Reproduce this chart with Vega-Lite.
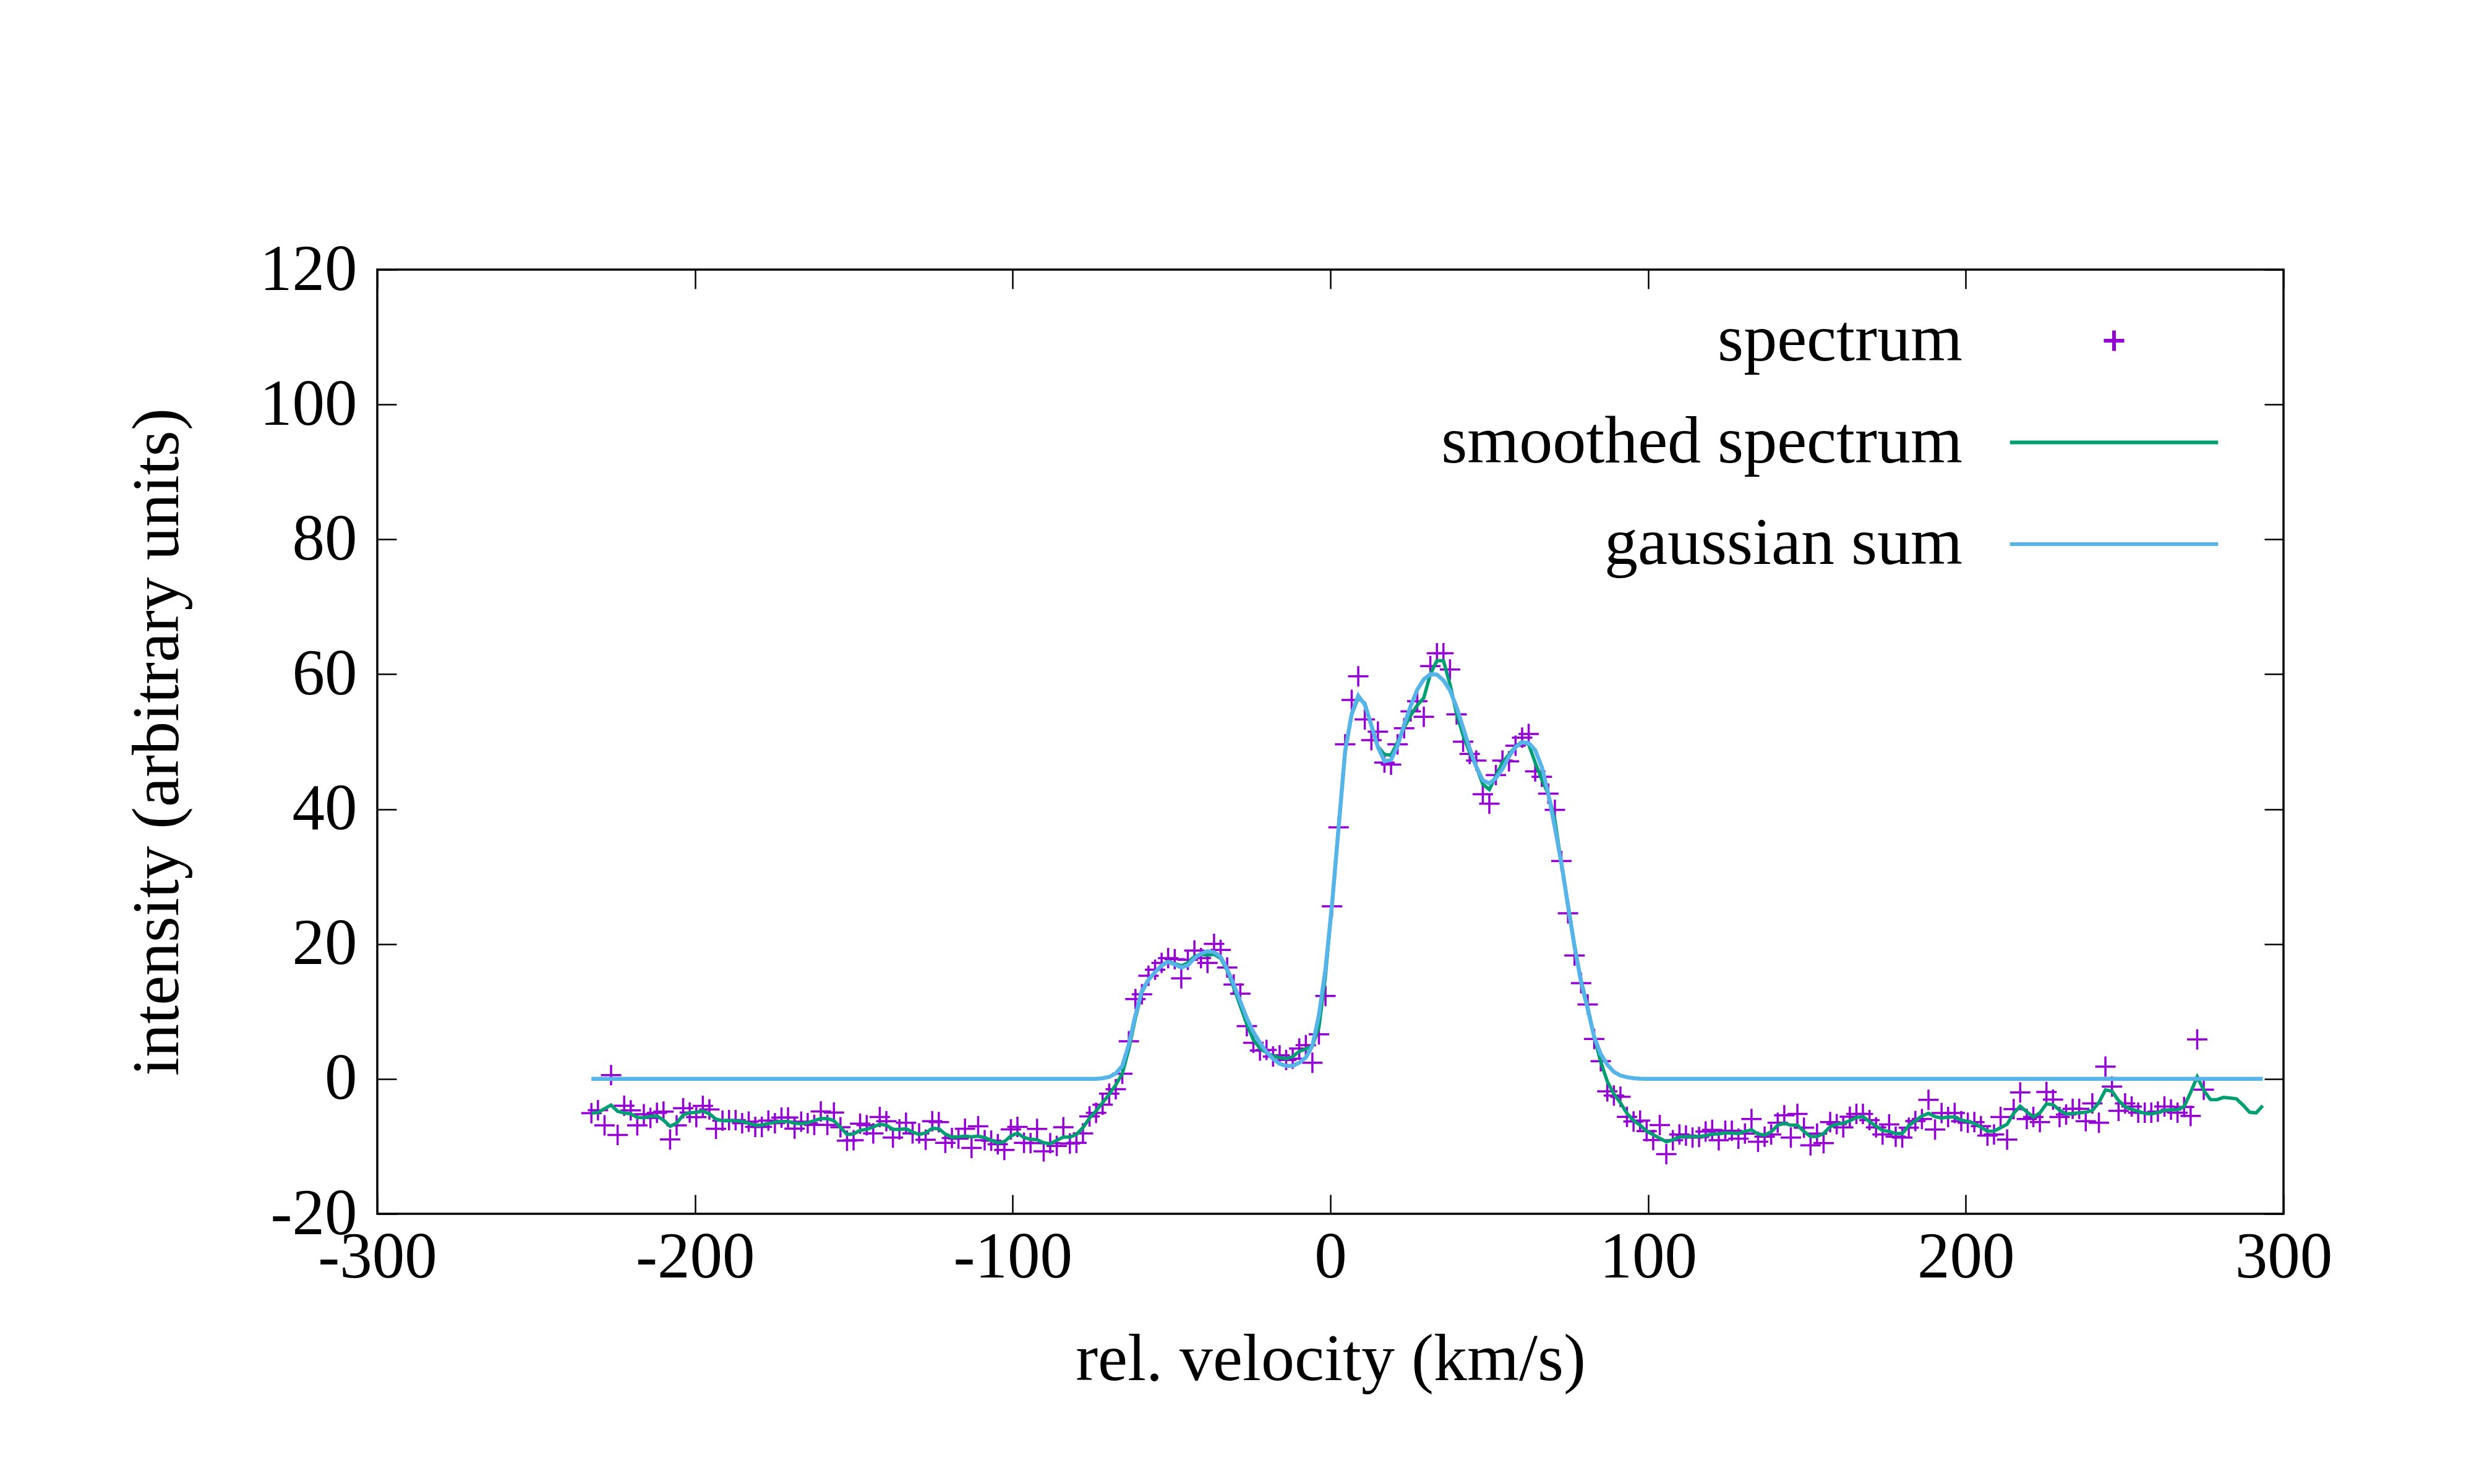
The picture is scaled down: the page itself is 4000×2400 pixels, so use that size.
{
"$schema":"https://vega.github.io/schema/vega-lite/v6.json",
"width":3082,"height":1527,
"autosize":{"type":"none"},
"padding":{"left":610,"top":436,"right":308,"bottom":437},
"background":"white",
"config":{
 "view":{"stroke":"black","strokeWidth":3.5},
 "font":"Liberation Serif",
 "axis":{"grid":false,"domain":false,"tickColor":"black","tickWidth":2.5,"tickSize":-31,"labelFont":"Liberation Serif","labelFontSize":105,"labelColor":"black","labelLimit":1000,"titleFont":"Liberation Serif","titleFontSize":108,"titleFontWeight":"normal","titleColor":"black","titleLimit":3000,"labelFlush":false,"labelOverlap":false,"labelBound":false},
 "legend":{"orient":"none","legendX":2754,"legendY":61,"title":null,"labelAlign":"right","labelBaseline":"middle","labelOffset":-299,"labelFont":"Liberation Serif","labelFontSize":108,"labelColor":"black","labelLimit":3000,"symbolSize":1089,"symbolStrokeWidth":6,"rowPadding":56.5,"padding":0}
},
"data":{"values":[
{"v":-232.60,"s":-5.07,"m":-5.07,"g":0},
{"v":-230.54,"s":-4.64,"m":-4.98,"g":0},
{"v":-228.47,"s":-6.9,"m":-4.43,"g":0},
{"v":-226.41,"s":0.55,"m":-3.88,"g":0},
{"v":-224.35,"s":-8.3,"m":-4.8,"g":0},
{"v":-222.29,"s":-3.97,"m":-5.04,"g":0},
{"v":-220.22,"s":-4.67,"m":-5.19,"g":0},
{"v":-218.16,"s":-6.9,"m":-5.71,"g":0},
{"v":-216.10,"s":-5.25,"m":-5.74,"g":0},
{"v":-214.03,"s":-5.8,"m":-5.55,"g":0},
{"v":-211.97,"s":-5.04,"m":-5.5,"g":0},
{"v":-209.91,"s":-4.86,"m":-6.11,"g":0},
{"v":-207.84,"s":-8.98,"m":-7.03,"g":0},
{"v":-205.78,"s":-6.9,"m":-6.57,"g":0},
{"v":-203.72,"s":-4.34,"m":-5.35,"g":0},
{"v":-201.66,"s":-4.98,"m":-5.04,"g":0},
{"v":-199.59,"s":-5.68,"m":-4.95,"g":0},
{"v":-197.53,"s":-4.0,"m":-4.74,"g":0},
{"v":-195.47,"s":-4.52,"m":-5.19,"g":0},
{"v":-193.40,"s":-7.39,"m":-5.96,"g":0},
{"v":-191.34,"s":-6.17,"m":-6.2,"g":0},
{"v":-189.28,"s":-6.11,"m":-6.17,"g":0},
{"v":-187.21,"s":-6.11,"m":-6.2,"g":0},
{"v":-185.15,"s":-6.57,"m":-6.32,"g":0},
{"v":-183.09,"s":-6.35,"m":-6.57,"g":0},
{"v":-181.03,"s":-7.12,"m":-6.87,"g":0},
{"v":-178.96,"s":-7.12,"m":-6.87,"g":0},
{"v":-176.90,"s":-6.17,"m":-6.63,"g":0},
{"v":-174.84,"s":-6.57,"m":-6.41,"g":0},
{"v":-172.77,"s":-5.74,"m":-6.32,"g":0},
{"v":-170.71,"s":-5.71,"m":-6.32,"g":0},
{"v":-168.65,"s":-7.36,"m":-6.57,"g":0},
{"v":-166.58,"s":-6.35,"m":-6.63,"g":0},
{"v":-164.52,"s":-6.57,"m":-6.5,"g":0},
{"v":-162.46,"s":-6.81,"m":-6.2,"g":0},
{"v":-160.40,"s":-4.83,"m":-5.89,"g":0},
{"v":-158.33,"s":-6.81,"m":-5.89,"g":0},
{"v":-156.27,"s":-4.98,"m":-6.2,"g":0},
{"v":-154.21,"s":-7.17,"m":-7.17,"g":0},
{"v":-152.14,"s":-9.16,"m":-8.24,"g":0},
{"v":-150.08,"s":-9.10,"m":-8.15,"g":0},
{"v":-148.02,"s":-6.63,"m":-7.63,"g":0},
{"v":-145.95,"s":-6.87,"m":-7.48,"g":0},
{"v":-143.89,"s":-8.09,"m":-7.12,"g":0},
{"v":-141.83,"s":-5.65,"m":-6.72,"g":0},
{"v":-139.77,"s":-6.26,"m":-6.87,"g":0},
{"v":-137.70,"s":-8.70,"m":-7.48,"g":0},
{"v":-135.64,"s":-7.48,"m":-7.48,"g":0},
{"v":-133.58,"s":-6.51,"m":-7.39,"g":0},
{"v":-131.51,"s":-8.09,"m":-7.88,"g":0},
{"v":-129.45,"s":-8.09,"m":-8.24,"g":0},
{"v":-127.39,"s":-9.01,"m":-8.0,"g":0},
{"v":-125.32,"s":-6.26,"m":-7.33,"g":0},
{"v":-123.26,"s":-6.41,"m":-7.39,"g":0},
{"v":-121.20,"s":-9.47,"m":-8.18,"g":0},
{"v":-119.13,"s":-8.77,"m":-8.64,"g":0},
{"v":-117.07,"s":-8.86,"m":-8.58,"g":0},
{"v":-115.01,"s":-7.39,"m":-8.49,"g":0},
{"v":-112.95,"s":-10.23,"m":-8.58,"g":0},
{"v":-110.88,"s":-7.02,"m":-8.49,"g":0},
{"v":-108.82,"s":-9.10,"m":-8.7,"g":0},
{"v":-106.76,"s":-9.16,"m":-9.1,"g":0},
{"v":-104.69,"s":-9.68,"m":-9.47,"g":0},
{"v":-102.63,"s":-10.54,"m":-9.32,"g":0},
{"v":-100.57,"s":-7.48,"m":-8.46,"g":0},
{"v":-98.51,"s":-7.12,"m":-8.04,"g":0},
{"v":-96.44,"s":-9.47,"m":-8.7,"g":0},
{"v":-94.38,"s":-9.53,"m":-8.95,"g":0},
{"v":-92.32,"s":-7.42,"m":-9.01,"g":0},
{"v":-90.25,"s":-10.75,"m":-9.47,"g":0},
{"v":-88.19,"s":-9.53,"m":-9.62,"g":0},
{"v":-86.13,"s":-9.93,"m":-9.1,"g":0},
{"v":-84.06,"s":-7.17,"m":-8.64,"g":0},
{"v":-82.00,"s":-9.56,"m":-8.64,"g":0},
{"v":-79.94,"s":-9.47,"m":-8.24,"g":0},
{"v":-77.88,"s":-8.09,"m":-7.23,"g":0},
{"v":-75.81,"s":-5.56,"m":-5.8,"g":0},
{"v":-73.75,"s":-5.04,"m":-4.74,"g":0.02},
{"v":-71.69,"s":-3.82,"m":-3.52,"g":0.1},
{"v":-69.62,"s":-2.20,"m":-2.3,"g":0.3},
{"v":-67.56,"s":-1.53,"m":-0.9,"g":0.8},
{"v":-65.50,"s":0.76,"m":0.8,"g":1.93},
{"v":-63.43,"s":5.59,"m":4.44,"g":5.13},
{"v":-61.37,"s":11.83,"m":9.0,"g":9.46},
{"v":-59.31,"s":12.55,"m":12.87,"g":13.1},
{"v":-57.25,"s":15.29,"m":14.7,"g":14.7},
{"v":-55.18,"s":16.2,"m":15.84,"g":15.84},
{"v":-53.12,"s":17.2,"m":16.75,"g":16.84},
{"v":-51.06,"s":17.9,"m":17.43,"g":17.34},
{"v":-48.99,"s":17.75,"m":17.1,"g":16.98},
{"v":-46.93,"s":14.9,"m":16.75,"g":16.52},
{"v":-44.87,"s":17.66,"m":17.2,"g":16.84},
{"v":-42.80,"s":19.03,"m":18.12,"g":17.88},
{"v":-40.74,"s":17.9,"m":18.48,"g":18.57},
{"v":-38.68,"s":17.2,"m":18.35,"g":18.94},
{"v":-36.62,"s":20.03,"m":18.48,"g":18.8},
{"v":-34.55,"s":19.12,"m":17.9,"g":18.12},
{"v":-32.49,"s":16.52,"m":16.07,"g":16.3},
{"v":-30.43,"s":14.0,"m":13.56,"g":14.0},
{"v":-28.36,"s":12.64,"m":10.83,"g":11.5},
{"v":-26.30,"s":7.82,"m":8.1,"g":9.0},
{"v":-24.24,"s":5.35,"m":5.8,"g":6.95},
{"v":-22.17,"s":4.21,"m":4.54,"g":5.35},
{"v":-20.11,"s":4.3,"m":3.9,"g":3.99},
{"v":-18.05,"s":3.3,"m":3.39,"g":2.99},
{"v":-15.98,"s":3.5,"m":3.17,"g":2.25},
{"v":-13.92,"s":2.8,"m":2.99,"g":1.93},
{"v":-11.86,"s":3.0,"m":3.3,"g":1.93},
{"v":-9.80,"s":4.5,"m":4.08,"g":2.39},
{"v":-7.73,"s":5.0,"m":4.44,"g":3.17},
{"v":-5.67,"s":2.4,"m":4.9,"g":4.9},
{"v":-3.61,"s":6.6,"m":7.63,"g":9.46},
{"v":-1.54,"s":12.3,"m":15.38,"g":16.3},
{"v":0.52,"s":25.6,"m":25.9,"g":25.9},
{"v":2.58,"s":37.3,"m":37.3,"g":37.26},
{"v":4.65,"s":49.6,"m":48.5,"g":48.66},
{"v":6.71,"s":56.2,"m":54.0,"g":54.13},
{"v":8.77,"s":59.7,"m":56.5,"g":56.8},
{"v":10.83,"s":53.3,"m":55.7,"g":55.5},
{"v":12.90,"s":50.24,"m":52.4,"g":52.4},
{"v":14.96,"s":51.5,"m":49.3,"g":49.2},
{"v":17.02,"s":46.9,"m":48.1,"g":47.1},
{"v":19.09,"s":46.6,"m":48.0,"g":47.3},
{"v":21.15,"s":49.6,"m":49.9,"g":49.4},
{"v":23.21,"s":52.0,"m":52.1,"g":52.5},
{"v":25.28,"s":54.5,"m":53.9,"g":55.3},
{"v":27.34,"s":56.0,"m":55.4,"g":57.7},
{"v":29.40,"s":53.7,"m":56.5,"g":59.25},
{"v":31.46,"s":61.2,"m":60.0,"g":60.0},
{"v":33.53,"s":63.1,"m":62.0,"g":59.95},
{"v":35.59,"s":63.1,"m":62.0,"g":59.1},
{"v":37.65,"s":60.7,"m":58.5,"g":57.6},
{"v":39.72,"s":54.06,"m":54.2,"g":55.1},
{"v":41.78,"s":50.0,"m":50.9,"g":52.07},
{"v":43.84,"s":48.2,"m":48.4,"g":49.0},
{"v":45.91,"s":47.2,"m":46.3,"g":46.3},
{"v":47.97,"s":42.2,"m":43.7,"g":44.3},
{"v":50.03,"s":40.8,"m":42.9,"g":43.8},
{"v":52.09,"s":45.05,"m":44.9,"g":44.6},
{"v":54.16,"s":47.2,"m":46.9,"g":45.97},
{"v":56.22,"s":47.1,"m":48.1,"g":47.8},
{"v":58.28,"s":49.4,"m":49.3,"g":49.2},
{"v":60.35,"s":50.6,"m":50.0,"g":49.9},
{"v":62.41,"s":51.15,"m":49.6,"g":49.8},
{"v":64.47,"s":45.6,"m":46.9,"g":48.75},
{"v":66.54,"s":44.8,"m":44.4,"g":46.25},
{"v":68.60,"s":42.3,"m":42.2,"g":42.25},
{"v":70.66,"s":39.9,"m":38.4,"g":37.3},
{"v":72.72,"s":32.3,"m":31.9,"g":31.95},
{"v":74.79,"s":24.55,"m":25.9,"g":25.65},
{"v":76.85,"s":18.3,"m":19.8,"g":19.6},
{"v":78.91,"s":14.2,"m":14.6,"g":14.35},
{"v":80.98,"s":11.03,"m":10.7,"g":10.4},
{"v":83.04,"s":5.93,"m":6.2,"g":6.2},
{"v":85.10,"s":2.62,"m":2.51,"g":3.67},
{"v":87.17,"s":-1.85,"m":-0.38,"g":2.09},
{"v":89.23,"s":-2.47,"m":-2.22,"g":1.04},
{"v":91.29,"s":-2.64,"m":-3.54,"g":0.51},
{"v":93.35,"s":-5.64,"m":-5.11,"g":0.25},
{"v":95.42,"s":-6.32,"m":-6.17,"g":0.1},
{"v":97.48,"s":-6.17,"m":-6.85,"g":0.04},
{"v":99.54,"s":-7.74,"m":-7.74,"g":0.01},
{"v":101.61,"s":-9.06,"m":-8.27,"g":0},
{"v":103.67,"s":-6.85,"m":-8.8,"g":0},
{"v":105.73,"s":-11.16,"m":-9.32,"g":0},
{"v":107.80,"s":-9.1,"m":-9.03,"g":0},
{"v":109.86,"s":-8.25,"m":-8.6,"g":0},
{"v":111.92,"s":-8.4,"m":-8.55,"g":0},
{"v":113.98,"s":-8.7,"m":-8.56,"g":0},
{"v":116.05,"s":-8.6,"m":-8.55,"g":0},
{"v":118.11,"s":-7.8,"m":-8.4,"g":0},
{"v":120.17,"s":-7.55,"m":-8.2,"g":0},
{"v":122.24,"s":-9.1,"m":-8.15,"g":0},
{"v":124.30,"s":-7.7,"m":-8.0,"g":0},
{"v":126.36,"s":-7.7,"m":-8.04,"g":0},
{"v":128.43,"s":-8.85,"m":-8.1,"g":0},
{"v":130.49,"s":-8.1,"m":-7.79,"g":0},
{"v":132.55,"s":-5.96,"m":-7.54,"g":0},
{"v":134.61,"s":-9.32,"m":-8.18,"g":0},
{"v":136.68,"s":-8.56,"m":-8.33,"g":0},
{"v":138.74,"s":-8.25,"m":-7.85,"g":0},
{"v":140.80,"s":-6.5,"m":-6.87,"g":0},
{"v":142.87,"s":-5.4,"m":-6.57,"g":0},
{"v":144.93,"s":-8.7,"m":-6.87,"g":0},
{"v":146.99,"s":-5.2,"m":-6.87,"g":0},
{"v":149.06,"s":-7.24,"m":-7.79,"g":0},
{"v":151.12,"s":-9.84,"m":-8.55,"g":0},
{"v":153.18,"s":-8.1,"m":-8.55,"g":0},
{"v":155.24,"s":-9.53,"m":-8.1,"g":0},
{"v":157.31,"s":-6.4,"m":-7.09,"g":0},
{"v":159.37,"s":-6.7,"m":-6.72,"g":0},
{"v":161.43,"s":-7.18,"m":-6.57,"g":0},
{"v":163.50,"s":-5.6,"m":-6.2,"g":0},
{"v":165.56,"s":-5.2,"m":-5.72,"g":0},
{"v":167.62,"s":-5.2,"m":-5.59,"g":0},
{"v":169.69,"s":-6.1,"m":-6.32,"g":0},
{"v":171.75,"s":-7.18,"m":-7.02,"g":0},
{"v":173.81,"s":-8.25,"m":-7.63,"g":0},
{"v":175.87,"s":-6.75,"m":-7.79,"g":0},
{"v":177.94,"s":-8.56,"m":-8.1,"g":0},
{"v":180.00,"s":-8.7,"m":-8.1,"g":0},
{"v":182.06,"s":-7.24,"m":-6.93,"g":0},
{"v":184.13,"s":-6.25,"m":-6.2,"g":0},
{"v":186.19,"s":-5.96,"m":-5.5,"g":0},
{"v":188.25,"s":-3.1,"m":-5.1,"g":0},
{"v":190.32,"s":-7.5,"m":-5.59,"g":0},
{"v":192.38,"s":-5.05,"m":-5.8,"g":0},
{"v":194.44,"s":-5.65,"m":-5.65,"g":0},
{"v":196.50,"s":-5.05,"m":-5.65,"g":0},
{"v":198.57,"s":-6.27,"m":-6.11,"g":0},
{"v":200.63,"s":-6.5,"m":-6.3,"g":0},
{"v":202.69,"s":-6.4,"m":-6.6,"g":0},
{"v":204.76,"s":-7.0,"m":-7.15,"g":0},
{"v":206.82,"s":-8.4,"m":-7.75,"g":0},
{"v":208.88,"s":-8.25,"m":-7.73,"g":0},
{"v":210.95,"s":-5.65,"m":-7.24,"g":0},
{"v":213.01,"s":-9.0,"m":-6.72,"g":0},
{"v":215.07,"s":-4.49,"m":-5.1,"g":0},
{"v":217.13,"s":-2.0,"m":-4.06,"g":0},
{"v":219.20,"s":-5.96,"m":-4.89,"g":0},
{"v":221.26,"s":-5.65,"m":-5.65,"g":0},
{"v":223.32,"s":-6.4,"m":-5.04,"g":0},
{"v":225.39,"s":-1.93,"m":-3.7,"g":0},
{"v":227.45,"s":-3.06,"m":-3.82,"g":0},
{"v":229.51,"s":-5.65,"m":-4.64,"g":0},
{"v":231.58,"s":-5.28,"m":-5.19,"g":0},
{"v":233.64,"s":-4.43,"m":-5.13,"g":0},
{"v":235.70,"s":-4.43,"m":-5.04,"g":0},
{"v":237.76,"s":-6.26,"m":-4.95,"g":0},
{"v":239.83,"s":-3.63,"m":-4.67,"g":0},
{"v":241.89,"s":-6.5,"m":-3.51,"g":0},
{"v":243.95,"s":1.83,"m":-1.62,"g":0},
{"v":246.02,"s":-1.14,"m":-1.83,"g":0},
{"v":248.08,"s":-4.74,"m":-3.21,"g":0},
{"v":250.14,"s":-3.63,"m":-4.12,"g":0},
{"v":252.21,"s":-4.1,"m":-4.49,"g":0},
{"v":254.27,"s":-5.0,"m":-4.82,"g":0},
{"v":256.33,"s":-5.0,"m":-5.1,"g":0},
{"v":258.39,"s":-5.0,"m":-5.19,"g":0},
{"v":260.46,"s":-4.86,"m":-4.98,"g":0},
{"v":262.52,"s":-4.1,"m":-4.67,"g":0},
{"v":264.58,"s":-4.55,"m":-4.58,"g":0},
{"v":266.65,"s":-5.0,"m":-4.58,"g":0},
{"v":268.71,"s":-4.16,"m":-4.12,"g":0},
{"v":270.77,"s":-5.5,"m":-2.0,"g":0},
{"v":272.84,"s":5.86,"m":0.3,"g":0},
{"v":274.90,"s":-1.6,"m":-1.68,"g":0},
{"v":276.96,"m":-3.05,"g":0},
{"v":279.02,"m":-3.08,"g":0},
{"v":281.09,"m":-2.75,"g":0},
{"v":283.15,"m":-2.84,"g":0},
{"v":285.21,"m":-2.96,"g":0},
{"v":287.28,"m":-3.88,"g":0},
{"v":289.34,"m":-4.95,"g":0},
{"v":291.40,"m":-5.04,"g":0},
{"v":293.47,"m":-3.97,"g":0}
]},
"layer":[
{
 "mark":{"type":"point","filled":false,"size":1089,"strokeWidth":3.5,"opacity":1},
 "encoding":{
  "x":{"field":"v","type":"quantitative","scale":{"domain":[-300,300],"nice":false,"zero":false},
       "axis":{"orient":"bottom","values":[-300,-200,-100,0,100,200,300],"labelExpr":"toString(datum.value)","labelBaseline":"middle","labelPadding":101,"title":"rel. velocity (km/s)","titleY":236,"titleBaseline":"middle"}},
  "y":{"field":"s","type":"quantitative","scale":{"domain":[-20,120],"nice":false,"zero":false},
       "axis":{"orient":"left","values":[-20,0,20,40,60,80,100,120],"labelExpr":"toString(datum.value)","labelAlign":"right","labelBaseline":"middle","labelPadding":64,"title":"intensity (arbitrary units)","titleX":-355,"titleY":763.5,"titleAngle":-90,"titleAlign":"center","titleBaseline":"middle"}},
  "color":{"datum":"spectrum","type":"nominal","scale":{"domain":["spectrum","smoothed spectrum","gaussian sum"],"range":["#9400d3","#009e73","#56b4e9"]},
       "legend":{"encode":{"symbols":{"update":{"fill":{"value":"transparent"},"stroke":{"scale":"color","field":"value"},"shape":{"scale":"shape","field":"value"},"opacity":{"value":1},"strokeWidth":{"signal":"datum.value === 'spectrum' ? 3.5 : 6.5"}}}}}},
  "shape":{"datum":"spectrum","type":"nominal","scale":{"domain":["spectrum","smoothed spectrum","gaussian sum"],"range":["M-1,0H1M0,-1V1","M-10.2,0H10.2","M-10.2,0H10.2"]},
       "legend":{"encode":{"symbols":{"update":{"fill":{"value":"transparent"},"stroke":{"scale":"color","field":"value"},"shape":{"scale":"shape","field":"value"},"opacity":{"value":1},"strokeWidth":{"signal":"datum.value === 'spectrum' ? 3.5 : 6.5"}}}}}}
 }
},
{
 "mark":{"type":"line","strokeWidth":5.5,"strokeJoin":"miter"},
 "encoding":{
  "x":{"field":"v","type":"quantitative","axis":{"orient":"top","values":[-300,-200,-100,0,100,200,300],"labels":false,"title":null}},
  "y":{"field":"m","type":"quantitative","axis":{"orient":"right","values":[-20,0,20,40,60,80,100,120],"labels":false,"title":null}},
  "color":{"datum":"smoothed spectrum","type":"nominal"}
 }
},
{
 "mark":{"type":"line","strokeWidth":6.5},
 "encoding":{
  "x":{"field":"v","type":"quantitative","axis":null},
  "y":{"field":"g","type":"quantitative","axis":null},
  "color":{"datum":"gaussian sum","type":"nominal"}
 }
}
],
"resolve":{"axis":{"x":"independent","y":"independent"}}
}
